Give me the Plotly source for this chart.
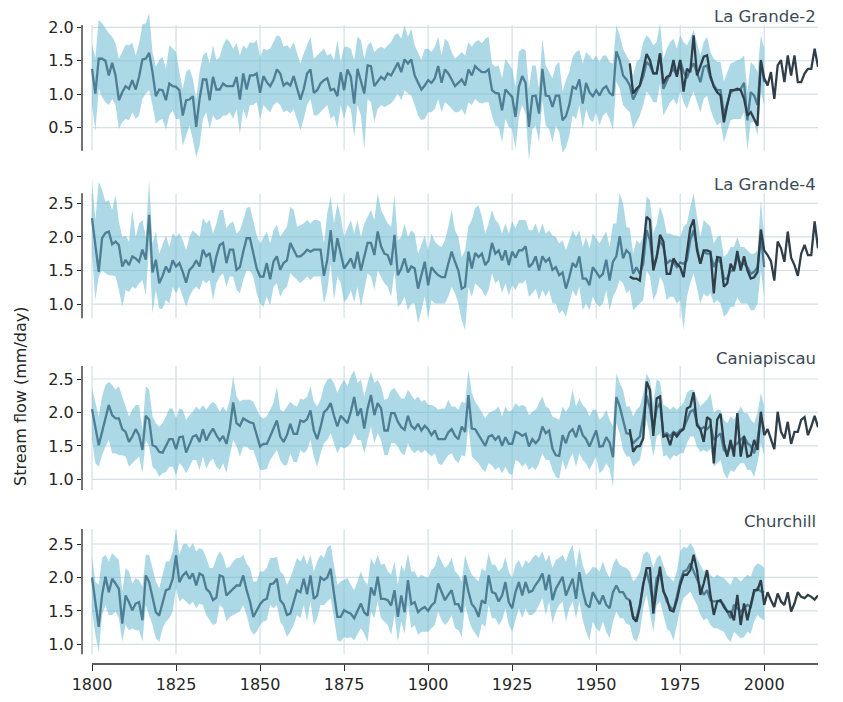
import plotly.graph_objects as go
from plotly.subplots import make_subplots

# ---------------- data ----------------
START_YEAR = 1800
OBS_START_YEAR = 1960
STATIONS = ["La Grande-2", "La Grande-4", "Caniapiscau", "Churchill"]
X_TICKS = [1800, 1825, 1850, 1875, 1900, 1925, 1950, 1975, 2000]
Y_TICKS = [[0.5, 1.0, 1.5, 2.0], [1.0, 1.5, 2.0, 2.5], [1.0, 1.5, 2.0, 2.5], [1.0, 1.5, 2.0, 2.5]]

lg2_recon = [1.38,1.01,1.53,1.53,1.50,1.28,1.47,1.28,0.91,1.03,
             1.12,1.08,1.21,1.07,1.26,1.52,1.53,1.62,1.33,0.97,
             1.07,1.06,0.91,1.16,1.12,1.11,1.06,0.68,0.91,0.92,
             0.97,0.51,0.93,1.22,1.22,0.91,1.26,1.07,1.07,1.16,
             1.12,1.12,1.12,1.26,0.92,1.31,1.07,1.28,1.28,1.31,
             1.02,1.27,1.18,1.12,1.21,1.37,1.31,1.13,1.17,1.13,
             1.27,1.09,0.92,1.08,1.31,1.37,1.02,1.06,1.16,1.21,
             1.24,1.06,1.08,0.97,1.33,1.06,1.37,1.26,0.86,1.38,
             1.18,1.01,1.43,1.42,1.12,1.19,1.26,1.22,1.31,1.28,
             1.38,1.47,1.33,1.52,1.46,1.52,1.28,1.18,1.07,1.13,
             1.21,1.17,1.24,1.42,1.17,1.37,1.31,1.22,1.12,1.17,
             1.22,1.13,1.37,1.28,1.42,1.37,1.33,1.33,1.37,1.06,
             1.02,1.01,0.76,1.07,1.02,0.96,0.66,1.11,1.27,1.17,
             0.51,0.97,0.98,0.71,1.38,0.98,0.97,0.81,0.98,0.98,
             0.61,0.67,0.84,1.11,1.08,1.22,0.86,1.17,1.03,0.97,
             1.06,0.98,1.08,1.12,1.02,0.98,1.64,1.51,1.28,1.22,
             1.13,0.92,1.03,1.13,1.26,1.48,1.43,1.31,1.31,1.61,
             1.08,1.21,1.31,1.38,1.28,1.51,1.33,1.24,1.38,1.46,
             1.33,1.18,1.41,1.43,1.24,1.13,1.06,1.06,0.69,0.88,
             1.03,1.06,1.06,1.08,1.17,0.61,1.03,0.98,0.84,1.48,
             1.18]
lg2_upper = [1.74,1.55,2.11,2.06,1.99,1.91,1.86,1.76,1.53,1.63,
             1.74,1.73,1.77,1.58,1.76,2.04,2.06,2.21,1.63,1.41,
             1.51,1.56,1.38,1.73,1.68,1.63,1.33,1.08,1.33,1.38,
             1.23,0.93,1.33,1.58,1.63,1.46,1.73,1.51,1.56,1.73,
             1.83,1.78,1.68,1.76,1.58,1.73,1.68,1.78,1.76,1.81,
             1.56,1.68,1.66,1.68,1.78,1.88,1.86,1.71,1.73,1.68,
             1.78,1.63,1.46,1.61,1.73,1.86,1.53,1.58,1.63,1.68,
             1.58,1.61,1.51,1.81,1.48,1.71,1.71,1.68,1.51,1.86,
             1.81,1.53,1.73,1.78,1.63,1.68,1.71,1.68,1.73,1.78,
             1.88,1.91,1.83,2.03,1.86,1.98,1.73,1.61,1.51,1.68,
             1.68,1.63,1.71,1.86,1.58,1.83,1.78,1.63,1.53,1.58,
             1.63,1.58,1.78,1.71,1.78,1.81,1.76,1.83,1.86,1.46,
             1.41,1.43,1.24,1.53,1.46,1.38,1.11,1.63,1.68,1.66,
             1.09,1.43,1.43,1.09,1.83,1.43,1.33,1.24,1.43,1.48,
             1.04,1.21,1.33,1.56,1.63,1.66,1.46,1.63,1.58,1.51,
             1.58,1.48,1.58,1.58,1.48,1.46,2.03,1.88,1.68,1.58,
             1.48,1.28,1.48,1.53,1.78,1.88,1.83,1.73,1.78,2.06,
             1.53,1.68,1.78,1.83,1.68,1.88,1.78,1.73,1.83,1.96,
             1.78,1.58,1.78,1.86,1.63,1.53,1.48,1.48,1.19,1.33,
             1.46,1.48,1.51,1.53,1.58,1.04,1.48,1.43,1.33,1.88,
             1.68]
lg2_lower = [0.84,0.45,1.08,0.96,0.88,0.84,0.93,0.84,0.48,0.58,
             0.63,0.61,0.73,0.63,0.68,0.93,1.01,1.06,0.84,0.56,
             0.61,0.63,0.47,0.68,0.76,0.63,0.63,0.23,0.38,0.53,
             0.33,0.05,0.23,0.63,0.73,0.48,0.68,0.61,0.63,0.68,
             0.68,0.73,0.63,0.78,0.41,0.78,0.63,0.84,0.84,0.88,
             0.63,0.84,0.78,0.73,0.84,0.88,0.84,0.73,0.76,0.71,
             0.78,0.63,0.46,0.63,0.84,0.93,0.68,0.68,0.73,0.78,
             0.84,0.63,0.68,0.48,0.84,0.63,0.84,0.78,0.36,0.84,
             0.68,0.18,0.93,0.88,0.58,0.78,0.84,0.81,0.84,0.86,
             0.93,1.01,0.91,1.06,1.01,0.98,0.84,0.68,0.61,0.63,
             0.73,0.73,0.78,0.93,0.73,0.88,0.84,0.78,0.73,0.73,
             0.78,0.68,0.88,0.84,0.93,0.88,0.86,0.88,0.88,0.68,
             0.53,0.51,0.28,0.63,0.51,0.48,0.18,0.66,0.84,0.71,
             0.01,0.48,0.53,0.28,0.91,0.53,0.48,0.28,0.53,0.43,
             0.13,0.20,0.38,0.68,0.63,0.84,0.48,0.78,0.63,0.58,
             0.73,0.53,0.68,0.73,0.63,0.46,1.19,1.08,0.84,0.78,
             0.73,0.48,0.58,0.68,0.84,1.04,0.98,0.88,0.88,1.16,
             0.68,0.78,0.88,0.93,0.84,1.04,0.88,0.78,0.93,1.04,
             0.88,0.73,0.93,0.98,0.78,0.63,0.53,0.58,0.28,0.43,
             0.61,0.63,0.63,0.63,0.73,0.16,0.58,0.58,0.38,1.04,
             0.84]
lg2_obs = [1.46,1.01,1.08,1.13,1.36,1.60,1.51,1.31,1.31,1.61,
           1.16,1.26,1.28,1.51,1.26,1.51,1.04,1.38,1.33,1.88,
           1.28,1.41,1.56,1.58,1.28,1.11,1.03,0.98,0.58,0.84,
           1.06,1.06,1.08,1.06,0.93,0.68,0.73,0.63,0.53,1.51,
           1.24,1.13,1.33,0.93,1.43,1.51,1.18,1.58,1.28,1.58,
           1.18,1.18,1.31,1.38,1.38,1.68,1.41]

lg4_recon = [2.28,1.85,1.48,1.98,2.06,2.08,1.89,1.93,1.88,1.56,
             1.66,1.58,1.71,1.68,1.63,1.81,1.66,2.33,1.47,1.66,
             1.31,1.42,1.56,1.47,1.65,1.56,1.61,1.48,1.32,1.51,
             1.56,1.65,1.56,1.81,1.71,1.76,1.47,1.71,1.88,1.91,
             1.61,1.81,1.81,1.51,1.55,1.78,1.98,1.98,1.75,1.53,
             1.41,1.41,1.61,1.37,1.63,1.71,1.51,1.61,1.65,1.91,
             1.81,1.71,1.71,1.75,1.81,1.78,1.81,1.81,1.81,1.42,
             1.66,2.10,1.63,1.98,1.73,1.53,1.60,1.68,1.53,1.78,
             1.50,1.73,1.91,1.91,1.73,2.08,1.86,1.75,1.73,1.58,
             2.03,1.43,1.53,1.68,1.47,1.56,1.53,1.23,1.42,1.63,
             1.28,1.55,1.48,1.43,1.40,1.40,1.60,1.78,1.63,1.50,
             1.23,1.26,1.78,1.53,1.76,1.70,1.75,1.58,1.65,1.91,
             1.75,1.80,1.65,1.80,1.58,1.78,1.69,1.80,1.80,1.86,
             1.55,1.60,1.71,1.50,1.71,1.63,1.68,1.51,1.55,1.43,
             1.47,1.23,1.40,1.61,1.55,1.71,1.38,1.38,1.28,1.55,
             1.48,1.40,1.45,1.66,1.35,1.63,1.71,2.01,1.68,1.80,
             1.75,1.45,1.55,1.45,1.60,2.10,1.95,1.55,1.70,1.95,
             1.85,1.60,1.65,1.62,1.55,1.62,1.60,1.65,1.95,2.10,
             1.85,1.60,1.78,1.75,1.75,1.55,1.68,1.62,1.38,1.38,
             1.50,1.50,1.70,1.60,1.60,1.55,1.45,1.48,1.55,2.00,
             1.55]
lg4_upper = [2.87,2.25,2.82,2.70,2.52,2.55,2.40,2.62,2.23,2.00,
             2.02,1.93,2.40,2.00,2.20,2.25,2.00,2.85,1.90,2.08,
             1.75,1.90,2.02,1.85,2.05,2.00,2.05,1.95,1.80,2.00,
             2.10,2.05,2.00,2.28,2.20,2.25,2.05,2.20,2.40,2.40,
             2.13,2.20,2.23,2.05,2.10,2.25,2.43,2.45,2.25,2.02,
             1.90,2.00,2.08,1.90,2.10,2.18,2.00,2.08,2.15,2.45,
             2.40,2.15,2.18,2.20,2.25,2.20,2.25,2.25,2.23,1.90,
             2.35,2.60,2.20,2.50,2.30,2.00,2.13,2.25,2.05,2.25,
             2.00,2.20,2.30,2.40,2.25,2.65,2.40,2.30,2.20,2.15,
             2.62,1.95,2.00,2.20,2.00,2.10,2.05,1.75,1.90,2.02,
             1.80,2.05,1.93,1.88,1.85,1.95,2.15,2.40,2.10,2.00,
             1.70,1.80,2.15,2.25,2.43,2.47,2.30,2.05,2.20,2.40,
             2.25,2.20,2.05,2.20,2.05,2.23,2.13,2.25,2.25,2.25,
             2.10,2.10,2.20,2.05,2.20,2.05,2.10,2.02,2.00,1.90,
             1.95,1.80,1.95,2.10,2.00,2.10,1.85,2.00,1.83,2.05,
             1.98,1.90,2.00,2.08,1.85,2.20,2.20,2.65,2.50,2.15,
             2.13,1.75,1.95,1.90,2.00,2.60,2.55,2.05,2.20,2.45,
             2.30,2.05,2.05,2.02,2.02,2.00,2.15,2.20,2.45,2.65,
             2.30,2.00,2.25,2.20,2.15,1.90,2.00,2.02,1.70,1.75,
             1.85,1.85,2.00,1.85,1.85,1.80,1.75,1.75,1.80,2.55,
             2.00]
lg4_lower = [1.75,1.06,1.41,1.50,1.46,1.43,1.43,1.41,1.21,0.96,
             1.21,1.18,1.26,1.23,1.31,1.36,1.13,1.85,0.86,1.21,
             0.93,0.93,1.06,1.01,1.26,1.16,1.26,1.11,0.96,1.11,
             1.21,1.26,1.21,1.36,1.31,1.36,1.06,1.31,1.41,1.46,
             1.26,1.41,1.41,1.21,1.16,1.36,1.50,1.50,1.41,1.16,
             1.01,0.96,1.11,0.98,1.26,1.31,1.11,1.21,1.26,1.46,
             1.41,1.36,1.31,1.36,1.41,1.36,1.41,1.41,1.41,1.01,
             1.21,1.60,1.06,1.41,1.31,1.03,1.08,1.21,1.03,1.26,
             0.96,1.21,1.46,1.41,1.21,1.50,1.41,1.31,1.26,1.11,
             1.50,0.96,1.01,1.11,0.91,1.01,1.01,0.71,0.91,1.11,
             0.81,1.06,1.01,1.01,1.01,1.01,1.11,1.26,1.16,1.01,
             0.76,0.61,1.26,1.11,1.31,1.26,1.21,1.11,1.21,1.46,
             1.31,1.36,1.16,1.31,1.13,1.28,1.21,1.31,1.31,1.36,
             1.11,1.16,1.23,1.06,1.21,1.11,1.21,1.01,1.01,0.86,
             0.91,0.81,1.01,1.21,1.11,1.26,0.91,1.01,0.91,1.11,
             1.01,0.96,1.01,1.21,0.91,1.11,1.21,1.36,1.31,1.16,
             1.21,0.91,0.96,1.01,1.06,1.50,1.41,1.06,1.16,1.41,
             1.31,1.06,1.11,1.11,1.01,1.06,0.61,1.11,1.31,1.46,
             1.21,1.01,1.16,1.11,1.16,1.01,1.06,1.01,0.81,0.86,
             0.96,0.96,1.11,1.01,1.01,1.01,0.91,0.91,1.01,1.50,
             1.11]
lg4_obs = [1.41,1.38,1.38,1.35,1.80,2.30,2.25,1.50,1.70,2.03,
           1.93,1.45,1.45,1.68,1.60,1.55,1.40,1.73,2.13,2.26,
           1.80,1.60,1.80,1.80,1.78,1.16,1.70,1.69,1.26,1.31,
           1.60,1.50,1.79,1.50,1.71,1.50,1.38,1.40,1.48,2.11,
           1.80,1.73,1.64,1.35,1.93,1.83,1.63,2.08,1.69,1.58,
           1.42,1.75,1.88,1.73,1.73,2.23,1.83]

can_recon = [2.05,1.78,1.51,1.71,1.91,2.11,1.96,1.91,1.91,1.75,
             1.71,1.56,1.64,1.75,1.66,1.44,1.95,1.89,1.51,1.49,
             1.41,1.40,1.50,1.60,1.60,1.45,1.63,1.64,1.40,1.53,
             1.64,1.66,1.56,1.75,1.58,1.68,1.76,1.66,1.58,1.65,
             1.53,1.76,2.15,1.84,1.80,1.91,1.88,1.85,1.84,1.66,
             1.49,1.53,1.53,1.64,1.75,1.88,1.64,1.56,1.66,1.83,
             1.68,1.68,1.88,1.86,1.90,2.03,1.73,1.60,1.78,2.00,
             2.05,2.14,1.95,1.79,1.95,1.89,1.84,2.01,2.23,1.95,
             2.06,1.76,2.06,2.26,1.96,2.14,2.06,1.73,1.73,1.99,
             1.99,1.86,1.78,1.74,1.95,1.80,1.75,1.83,1.73,1.80,
             1.75,1.66,1.73,1.60,1.60,1.60,1.70,1.75,1.65,1.60,
             1.79,1.71,2.26,1.76,1.75,1.66,1.58,1.50,1.64,1.66,
             1.59,1.65,1.50,1.63,1.53,1.53,1.71,1.69,1.65,1.68,
             1.49,1.60,1.54,1.60,1.79,1.69,1.73,1.46,1.36,1.35,
             1.66,1.54,1.70,1.75,1.63,1.81,1.66,1.60,1.49,1.60,
             1.73,1.49,1.50,1.63,1.55,1.33,2.23,2.09,1.90,1.69,
             1.68,1.54,1.59,1.64,1.93,2.25,2.06,1.74,2.06,2.14,
             1.66,1.69,1.64,1.71,1.68,1.74,1.76,1.89,2.01,2.04,
             1.84,1.75,1.78,1.75,1.81,1.59,1.64,1.69,1.44,1.39,
             1.49,1.49,1.54,1.59,1.64,1.54,1.50,1.39,1.59,1.94,
             1.74]
can_upper = [2.36,2.14,1.94,2.24,2.41,2.46,2.41,2.34,2.39,2.24,
             2.09,1.94,2.04,2.11,2.11,1.74,2.39,2.34,1.94,1.84,
             1.79,1.84,1.94,2.06,2.06,1.91,2.06,2.04,1.89,1.96,
             2.01,2.09,2.04,2.11,2.04,2.11,2.16,2.11,2.01,2.09,
             2.01,2.19,2.54,2.24,2.16,2.19,2.19,2.19,2.16,2.04,
             1.94,1.91,1.94,2.04,2.14,2.39,2.04,2.01,2.09,2.16,
             2.11,2.09,2.21,2.19,2.24,2.39,2.16,2.09,2.19,2.39,
             2.49,2.51,2.44,2.29,2.41,2.49,2.39,2.54,2.63,2.44,
             2.49,2.24,2.44,2.61,2.44,2.49,2.39,2.19,2.21,2.34,
             2.36,2.29,2.21,2.21,2.34,2.26,2.19,2.24,2.16,2.19,
             2.11,2.11,2.09,2.04,2.06,2.06,2.19,2.09,2.09,2.04,
             2.16,2.14,2.63,2.29,2.16,2.09,1.99,1.91,1.99,2.01,
             2.04,2.09,1.94,2.09,2.01,2.04,2.14,2.09,2.11,2.09,
             1.96,2.01,2.04,2.14,2.24,2.09,2.06,1.94,1.91,1.89,
             2.09,2.01,2.09,2.34,2.09,2.21,2.11,2.06,1.94,2.04,
             2.04,1.89,1.94,2.04,1.89,1.79,2.58,2.44,2.34,2.09,
             2.09,1.94,2.04,2.09,2.29,2.58,2.49,2.14,2.49,2.46,
             2.11,2.09,2.04,2.09,2.04,2.09,2.14,2.29,2.34,2.34,
             2.21,2.09,2.14,2.19,2.29,1.99,2.04,2.04,1.89,1.84,
             1.94,1.89,1.99,2.09,1.99,1.99,1.89,1.84,1.99,2.29,
             2.09]
can_lower = [1.59,1.24,1.19,1.36,1.49,1.59,1.39,1.39,1.36,1.36,
             1.34,1.19,1.24,1.29,1.34,1.09,1.59,1.49,1.19,1.14,
             1.04,1.09,1.11,1.19,1.19,1.06,1.24,1.19,1.09,1.19,
             1.29,1.29,1.14,1.34,1.16,1.26,1.31,1.19,1.14,1.24,
             1.09,1.36,1.59,1.49,1.34,1.49,1.49,1.44,1.44,1.29,
             1.14,1.14,1.16,1.29,1.36,1.44,1.29,1.21,1.21,1.39,
             1.26,1.26,1.44,1.39,1.44,1.59,1.34,1.19,1.39,1.54,
             1.59,1.69,1.54,1.39,1.49,1.46,1.49,1.54,1.69,1.59,
             1.59,1.39,1.59,1.79,1.54,1.69,1.59,1.36,1.36,1.54,
             1.54,1.49,1.39,1.36,1.54,1.44,1.39,1.44,1.39,1.44,
             1.39,1.34,1.39,1.24,1.21,1.29,1.36,1.39,1.29,1.24,
             1.36,1.34,1.79,1.34,1.29,1.24,1.16,1.11,1.24,1.21,
             1.14,1.19,1.09,1.19,1.09,1.06,1.29,1.26,1.19,1.24,
             1.14,1.19,1.14,1.24,1.39,1.29,1.29,1.14,1.04,1.01,
             1.29,1.14,1.29,1.39,1.19,1.39,1.29,1.24,1.14,1.24,
             1.34,1.09,1.14,1.24,1.16,0.89,1.84,1.69,1.44,1.34,
             1.34,1.19,1.24,1.29,1.54,1.89,1.64,1.34,1.64,1.69,
             1.34,1.36,1.29,1.36,1.34,1.39,1.39,1.54,1.64,1.64,
             1.49,1.41,1.44,1.41,1.46,1.19,1.24,1.29,1.09,1.01,
             1.14,1.11,1.19,1.24,1.24,1.14,1.14,1.04,1.24,1.54,
             1.36]
can_obs = [1.75,1.41,1.49,1.50,1.61,2.46,2.34,1.65,2.21,2.24,
           1.64,1.66,1.51,1.70,1.64,1.71,1.75,2.06,2.09,2.30,
           1.81,1.75,1.56,1.93,1.89,1.24,1.89,1.98,1.54,1.34,
           1.59,1.34,1.99,1.34,1.64,1.34,1.36,1.59,1.44,2.01,
           1.66,1.75,1.60,1.45,2.01,1.71,1.61,1.86,1.53,1.71,
           1.71,1.89,1.93,1.66,1.79,1.95,1.78]

chu_recon = [2.00,1.64,1.26,1.74,2.01,1.78,1.98,1.91,1.83,1.31,
             1.73,1.63,1.51,1.61,1.63,1.36,2.03,1.93,1.71,1.48,
             1.43,1.63,1.81,1.83,1.98,2.33,1.93,2.03,2.08,1.98,
             2.06,1.88,2.06,2.03,1.83,1.78,1.66,1.70,2.03,2.01,
             1.73,1.78,1.83,1.88,1.88,2.03,1.81,1.64,1.41,1.50,
             1.60,1.66,1.68,1.90,1.91,1.98,1.66,1.60,1.44,1.46,
             1.64,1.81,1.78,1.98,1.75,2.03,1.68,1.73,2.00,1.96,
             2.00,2.13,1.76,1.41,1.41,1.51,1.48,1.46,1.39,1.49,
             1.61,1.48,1.43,1.85,1.73,2.01,1.68,1.68,1.66,1.58,
             1.81,1.41,1.73,1.48,1.96,1.60,1.63,1.48,1.53,1.56,
             1.50,1.58,1.63,1.91,1.78,1.66,1.74,1.81,1.60,1.60,
             1.48,2.03,1.79,1.60,1.54,1.41,1.66,1.61,2.03,1.78,
             1.76,1.64,1.73,1.93,1.63,1.54,1.78,1.93,1.73,1.93,
             1.78,1.80,1.89,1.96,2.06,1.81,2.04,1.66,1.83,1.93,
             2.01,1.73,1.86,1.98,1.68,2.08,1.80,1.60,1.55,1.78,
             1.69,1.60,1.73,1.59,1.54,1.78,1.88,1.78,1.78,1.69,
             1.66,1.41,1.39,1.59,1.91,2.09,1.89,1.59,1.99,2.06,
             1.81,1.64,1.56,1.51,1.71,1.94,2.09,2.11,2.21,2.09,
             1.96,1.84,1.74,1.81,1.66,1.64,1.65,1.64,1.59,1.49,
             1.39,1.59,1.54,1.49,1.54,1.59,1.56,1.78,1.84,1.79,
             1.78]
chu_upper = [2.31,1.94,1.89,2.29,2.34,2.24,2.36,2.31,2.26,1.79,
             2.14,2.09,1.91,1.99,1.96,1.86,2.34,2.34,2.16,1.94,
             1.84,2.04,2.24,2.24,2.39,2.71,2.34,2.49,2.51,2.44,
             2.51,2.39,2.44,2.41,2.29,2.14,2.14,2.29,2.39,2.31,
             2.14,2.16,2.24,2.29,2.29,2.34,2.21,2.14,1.94,1.94,
             2.09,2.09,2.14,2.29,2.29,2.31,2.09,2.04,1.89,1.99,
             2.14,2.29,2.24,2.34,2.19,2.34,2.09,2.24,2.34,2.29,
             2.44,2.49,2.19,1.89,1.94,1.96,1.99,1.89,1.81,1.94,
             2.09,1.96,1.89,2.29,2.19,2.34,2.19,2.21,2.09,2.04,
             2.24,1.89,2.19,2.09,2.36,2.09,2.09,1.99,2.04,2.01,
             1.99,2.11,2.16,2.34,2.24,2.14,2.19,2.29,2.09,2.04,
             1.94,2.34,2.16,2.04,1.99,1.94,2.14,2.09,2.36,2.19,
             2.19,2.09,2.14,2.31,2.09,1.99,2.19,2.26,2.14,2.26,
             2.21,2.29,2.34,2.29,2.39,2.24,2.34,2.14,2.26,2.29,
             2.34,2.24,2.39,2.49,2.14,2.44,2.19,2.04,2.09,2.16,
             2.14,2.09,2.24,2.09,1.99,2.19,2.29,2.19,2.16,2.14,
             2.09,1.94,1.99,2.09,2.34,2.39,2.34,2.14,2.29,2.34,
             2.19,2.04,1.99,1.94,2.09,2.39,2.46,2.44,2.51,2.44,
             2.29,2.19,2.09,2.11,2.04,1.99,2.04,2.01,1.99,1.94,
             1.89,2.01,1.99,1.94,1.99,2.04,2.01,2.16,2.21,2.19,
             2.14]
chu_lower = [1.49,1.14,0.89,1.44,1.59,1.44,1.44,1.49,1.39,1.04,
             1.29,1.21,1.24,1.21,1.21,1.04,1.59,1.44,1.29,1.09,
             1.04,1.24,1.34,1.39,1.49,1.84,1.64,1.69,1.64,1.59,
             1.64,1.54,1.61,1.59,1.44,1.36,1.29,1.31,1.59,1.54,
             1.34,1.41,1.44,1.46,1.49,1.59,1.44,1.24,1.14,1.19,
             1.29,1.34,1.36,1.59,1.54,1.59,1.34,1.26,1.11,1.19,
             1.29,1.44,1.39,1.59,1.34,1.64,1.29,1.39,1.59,1.59,
             1.64,1.69,1.39,1.06,1.04,1.11,1.09,1.11,1.06,1.14,
             1.24,1.16,1.04,1.49,1.39,1.64,1.39,1.34,1.29,1.14,
             1.44,1.04,1.34,1.16,1.59,1.24,1.29,1.14,1.19,1.19,
             1.19,1.24,1.29,1.49,1.36,1.29,1.34,1.44,1.24,1.21,
             1.11,1.59,1.39,1.24,1.16,1.09,1.31,1.26,1.59,1.39,
             1.39,1.29,1.36,1.54,1.29,1.19,1.36,1.54,1.39,1.54,
             1.44,1.44,1.49,1.59,1.69,1.44,1.64,1.31,1.49,1.59,
             1.64,1.34,1.54,1.64,1.39,1.64,1.36,1.19,1.06,1.34,
             1.24,1.19,1.34,1.19,1.09,1.34,1.49,1.39,1.39,1.31,
             1.29,1.09,1.04,1.19,1.54,1.74,1.49,1.19,1.59,1.64,
             1.44,1.24,1.19,1.06,1.29,1.54,1.69,1.74,1.79,1.69,
             1.59,1.44,1.36,1.39,1.29,1.24,1.24,1.21,1.19,1.09,
             1.04,1.19,1.14,1.09,1.11,1.19,1.16,1.34,1.44,1.39,
             1.36]
chu_obs = [1.66,1.39,1.34,1.56,1.89,2.14,2.14,1.46,1.84,2.16,
           1.79,1.69,1.51,1.49,1.66,1.89,2.04,2.04,2.11,2.34,
           2.11,1.74,1.91,2.11,1.74,1.44,1.64,1.66,1.56,1.49,
           1.49,1.36,1.74,1.29,1.61,1.36,1.59,1.81,1.81,1.96,
           1.59,1.78,1.66,1.56,1.76,1.64,1.59,1.78,1.49,1.61,
           1.78,1.71,1.69,1.74,1.71,1.67,1.73]

RECON = [lg2_recon, lg4_recon, can_recon, chu_recon]
UPPER = [lg2_upper, lg4_upper, can_upper, chu_upper]
LOWER = [lg2_lower, lg4_lower, can_lower, chu_lower]
OBS = [lg2_obs, lg4_obs, can_obs, chu_obs]

# ---------------- layout geometry (pixels) ----------------
W, H = 843, 702
ML, MR, MT, MB = 82, 25, 0, 38
PW, PH = W - ML - MR, H - MT - MB
X0_PX, X1_PX = 92, 818            # pixel of 1800 and 2016
X_END = 2016
PPY = (X1_PX - X0_PX) / (X_END - START_YEAR)
X_RANGE = [START_YEAR - (X0_PX - ML) / PPY, X_END]

PANELS = [
    dict(dom=(0, 170), ref=(2.0, 27.3), scale=66.9, nom=(25.0, 150.7), title_px=17),
    dict(dom=(172, 342), ref=(2.5, 203.3), scale=67.2, nom=(193.3, 318.3), title_px=184),
    dict(dom=(344, 512), ref=(2.5, 379.0), scale=66.9, nom=(366.0, 490.0), title_px=358),
    dict(dom=(514, 664), ref=(2.5, 544.0), scale=66.9, nom=(529.0, 654.3), title_px=521),
]


def val_at(p, px):
    rv, rp = p["ref"]
    return rv - (px - rp) / p["scale"]


def py(px):
    return 1 - px / PH


def pxx(px):
    return (px - ML) / PW


BAND = "rgba(103,186,208,0.55)"
RECON_C = "rgba(50,100,125,0.78)"
OBS_C = "#2f3e49"
GRID = "#d3e0e5"
SPINE = "#262626"
TXT = "#262626"
TITLE_C = "#3b4a55"
FONT = "DejaVu Sans"

fig = make_subplots(rows=4, cols=1, shared_xaxes=True, vertical_spacing=0.0)

shapes = []
annotations = []
for i in range(4):
    row = i + 1
    rec = RECON[i]
    yrs = list(range(START_YEAR, START_YEAR + len(rec)))
    obs_yrs = list(range(OBS_START_YEAR, OBS_START_YEAR + len(OBS[i])))
    fig.add_trace(go.Scatter(x=yrs, y=LOWER[i], mode="lines", line=dict(width=0),
                             hoverinfo="skip", showlegend=False), row=row, col=1)
    fig.add_trace(go.Scatter(x=yrs, y=UPPER[i], mode="lines", line=dict(width=0),
                             fill="tonexty", fillcolor=BAND, hoverinfo="skip",
                             showlegend=False), row=row, col=1)
    fig.add_trace(go.Scatter(x=yrs, y=rec, mode="lines",
                             line=dict(color=RECON_C, width=2.3), showlegend=False),
                  row=row, col=1)
    fig.add_trace(go.Scatter(x=obs_yrs, y=OBS[i], mode="lines",
                             line=dict(color=OBS_C, width=2.3), showlegend=False),
                  row=row, col=1)

    p = PANELS[i]
    top, bot = p["dom"]
    yr = [val_at(p, bot), val_at(p, top)]
    nom_lo, nom_hi = val_at(p, p["nom"][1]), val_at(p, p["nom"][0])
    ykey = "yaxis" if i == 0 else f"yaxis{row}"
    fig.layout[ykey].update(domain=[py(bot), py(top)], range=yr, tickvals=Y_TICKS[i],
                            tickformat=".1f", ticks="outside", ticklen=4, tickwidth=1.2,
                            tickcolor=SPINE, showgrid=False, zeroline=False, showline=False,
                            tickfont=dict(family=FONT, size=16, color=TXT))
    xref = "x" if i == 0 else f"x{row}"
    yref = "y" if i == 0 else f"y{row}"
    for t in Y_TICKS[i]:
        shapes.append(dict(type="line", xref=xref, yref=yref, x0=START_YEAR, x1=X_END,
                           y0=t, y1=t, layer="below", line=dict(color=GRID, width=1.2)))
    for xv in X_TICKS:
        shapes.append(dict(type="line", xref=xref, yref=yref, x0=xv, x1=xv,
                           y0=nom_lo, y1=nom_hi, layer="below",
                           line=dict(color=GRID, width=1.2)))
    shapes.append(dict(type="line", xref="paper", yref="paper", x0=0, x1=0,
                       y0=py(p["nom"][1]), y1=py(p["nom"][0]),
                       line=dict(color=SPINE, width=1.3)))
    annotations.append(dict(text=STATIONS[i], xref="paper", yref="paper", x=1.0,
                            y=py(p["title_px"]), xanchor="right", yanchor="middle",
                            showarrow=False, font=dict(family=FONT, size=16.5, color=TITLE_C)))

shapes.append(dict(type="line", xref="paper", yref="paper", x0=pxx(X0_PX), x1=1,
                   y0=0, y1=0, line=dict(color=SPINE, width=1.5)))

annotations.append(dict(text="Stream flow (mm/day)", xref="paper", yref="paper",
                        x=pxx(20), y=py(396), textangle=-90, xanchor="center",
                        yanchor="middle", showarrow=False,
                        font=dict(family=FONT, size=16, color=TXT)))

for i in range(4):
    xkey = "xaxis" if i == 0 else f"xaxis{i+1}"
    fig.layout[xkey].update(range=X_RANGE, showgrid=False, zeroline=False, showline=False,
                            tickvals=X_TICKS, ticks="outside" if i == 3 else "",
                            showticklabels=(i == 3), ticklen=6, tickwidth=1.3,
                            tickcolor=SPINE, tickfont=dict(family=FONT, size=16, color=TXT))

fig.update_layout(width=W, height=H, margin=dict(l=ML, r=MR, t=MT, b=MB),
                  paper_bgcolor="white", plot_bgcolor="white", shapes=shapes,
                  annotations=annotations, showlegend=False,
                  font=dict(family=FONT, size=16, color=TXT))

fig.write_html("out.html")
